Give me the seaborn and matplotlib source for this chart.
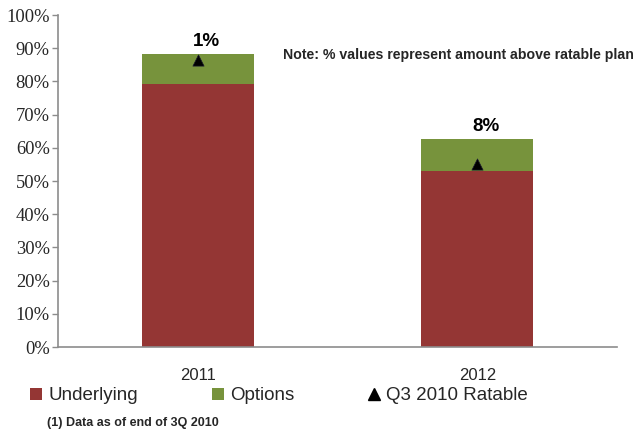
import numpy as np
import pandas as pd
import matplotlib
matplotlib.use("Agg")
import matplotlib.pyplot as plt
from matplotlib.lines import Line2D
from matplotlib.patches import Patch
from matplotlib.font_manager import FontProperties
import seaborn as sns

# Hedge coverage by year (share of production)
years = ["2011", "2012"]
underlying = [79.2, 53.0]
options = [9.1, 9.6]
ratable = [86.5, 55.0]
above_labels = ["1%", "8%"]

red = "#943634"
green = "#77933C"

sns.set_style("white")
plt.rcParams["font.family"] = ["Liberation Sans", "DejaVu Sans"]

df = pd.DataFrame({"year": years, "underlying": underlying, "options": options, "ratable": ratable})
df["total"] = df["underlying"] + df["options"]

fig = plt.figure(figsize=(6.36, 4.38), dpi=100)
ax = fig.add_axes([58 / 636, 1 - 347 / 438, (617 - 58) / 636, (347 - 15) / 438])

sns.barplot(data=df, x="year", y="total", color=green, width=0.4, saturation=1,
            edgecolor="none", ax=ax)
sns.barplot(data=df, x="year", y="underlying", color=red, width=0.4, saturation=1,
            edgecolor="none", ax=ax)
sns.scatterplot(data=df, x="year", y="ratable", marker="^", color="black", s=65,
                edgecolor="#1a1a2e", linewidth=0.5, zorder=5, ax=ax)

for i, (tot, lab) in enumerate(zip(df["total"], above_labels)):
    ax.text(i + 0.03, tot + 1.2, lab, ha="center", va="bottom", fontsize=13.5,
            fontweight="bold", color="black")

ax.set_xlim(-0.5, 1.5)
ax.set_ylim(0, 100)
ax.set_yticks(np.arange(0, 101, 10))
serif = FontProperties(family="Liberation Serif", size=13.3)
ax.set_yticklabels([f"{v}%" for v in range(0, 101, 10)])
for lbl in ax.get_yticklabels():
    lbl.set_fontproperties(serif)
ax.set_xlabel("")
ax.set_ylabel("")
ax.tick_params(axis="x", which="major", length=0, labelsize=12, pad=15)
ax.set_xticks([-0.5, 0.5, 1.5], minor=True)
ax.tick_params(axis="x", which="minor", length=5, width=1, color="#8c8c8c", direction="out")
ax.tick_params(axis="y", length=4, width=1, color="#8c8c8c", direction="out", left=True, pad=2)

for side in ["top", "right"]:
    ax.spines[side].set_visible(False)
for side in ["left", "bottom"]:
    ax.spines[side].set_color("#8c8c8c")
    ax.spines[side].set_linewidth(1.2)

fig.text(283 / 636, 1 - 55 / 438, "Note: % values represent amount above ratable plan",
         fontsize=10.2, fontweight="bold", ha="left", va="center")

handles = [
    Patch(facecolor=red, edgecolor="none", label="Underlying"),
    Patch(facecolor=green, edgecolor="none", label="Options"),
    Line2D([], [], marker="^", color="black", linestyle="none", markersize=9,
           label="Q3 2010 Ratable"),
]
fig.legend(handles=handles, loc="center left", bbox_to_anchor=(30 / 636, 1 - 396 / 438),
           ncol=3, frameon=False, fontsize=13.5, handlelength=0.65, handleheight=0.65,
           handletextpad=0.35, columnspacing=3.9, borderaxespad=0, borderpad=0)

fig.text(47 / 636, 1 - 423 / 438, "(1) Data as of end of 3Q 2010", fontsize=9,
         fontweight="bold", ha="left", va="center")

fig.savefig("out.png", dpi=100)
